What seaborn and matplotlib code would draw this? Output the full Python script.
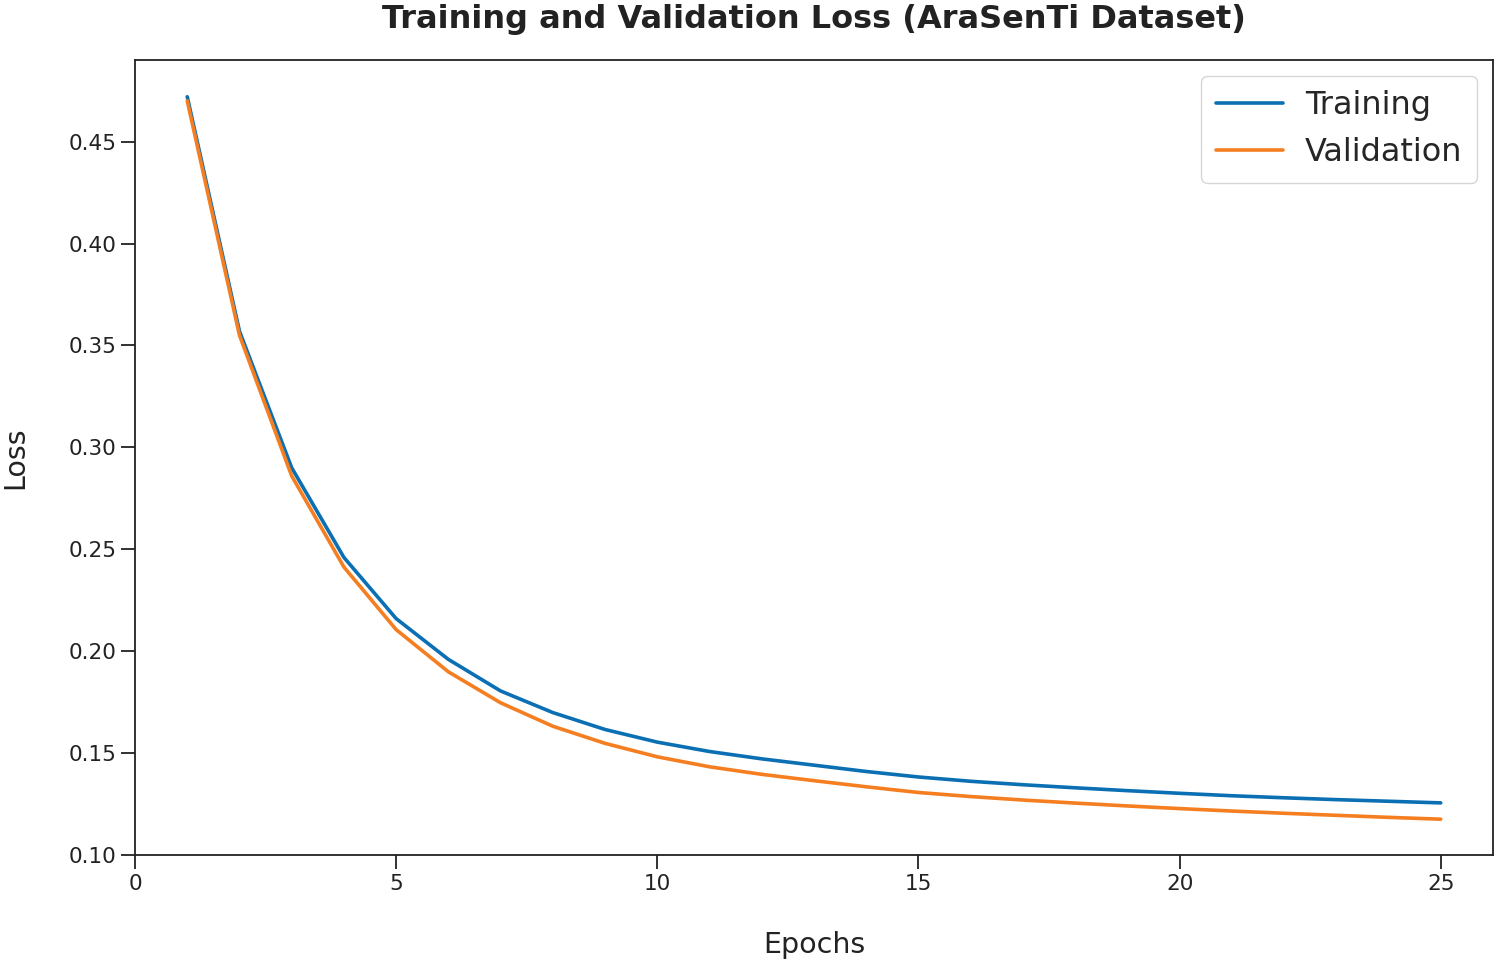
import numpy as np
import pandas as pd
import matplotlib
matplotlib.use("Agg")
import matplotlib.pyplot as plt
import seaborn as sns

# ── Data ─────────────────────────────────────────────────────────────────────
epochs = list(range(1, 26))
train_loss = [0.472, 0.357, 0.290, 0.246, 0.216, 0.196, 0.1805, 0.1699, 0.1616, 0.1554,
              0.1508, 0.1472, 0.1441, 0.1410, 0.1383, 0.1362, 0.1345, 0.1330, 0.1316, 0.1303,
              0.1291, 0.1281, 0.1272, 0.1264, 0.1256]
val_loss = [0.470, 0.355, 0.286, 0.2413, 0.2106, 0.1899, 0.1747, 0.1632, 0.1548, 0.1482,
            0.1433, 0.1396, 0.1365, 0.1335, 0.1307, 0.1287, 0.1270, 0.1255, 0.1241, 0.1228,
            0.1216, 0.1205, 0.1195, 0.1185, 0.1176]

df = pd.DataFrame({
    "Epochs": epochs * 2,
    "Loss": train_loss + val_loss,
    "Set": ["Training"] * len(epochs) + ["Validation"] * len(epochs),
})

COLORS = {"Training": "#0b6fb3", "Validation": "#f57e20"}

sns.set_style("ticks")

fig = plt.figure(figsize=(15, 9.64), dpi=100)
ax = fig.add_axes([0.09, 0.113, 0.9053, 0.8247])

sns.lineplot(data=df, x="Epochs", y="Loss", hue="Set", palette=COLORS,
             linewidth=2.6, ax=ax)

ax.set_xlim(0, 26)
ax.set_ylim(0.10, 0.49)
ax.set_xticks([0, 5, 10, 15, 20, 25])
ax.set_yticks([0.10, 0.15, 0.20, 0.25, 0.30, 0.35, 0.40, 0.45])
ax.set_yticklabels([f"{v:.2f}" for v in ax.get_yticks()])
ax.tick_params(labelsize=15.5, length=10, width=1.3, colors="#222222")
for s in ax.spines.values():
    s.set_linewidth(1.3)
    s.set_color("#222222")

ax.set_xlabel("Epochs", fontsize=20.5, labelpad=27, color="#222222")
ax.set_ylabel("Loss", fontsize=20.5, labelpad=28, color="#222222")
ax.set_title("Training and Validation Loss (AraSenTi Dataset)",
             fontsize=23, fontweight="bold", pad=23, color="#222222")

leg = ax.legend(fontsize=23, loc="upper right", frameon=True, borderpad=0.45,
                handlelength=2.1, handletextpad=0.7, labelspacing=0.5)
for line in leg.get_lines():
    line.set_linewidth(2.6)

fig.savefig("out.png", dpi=100)
